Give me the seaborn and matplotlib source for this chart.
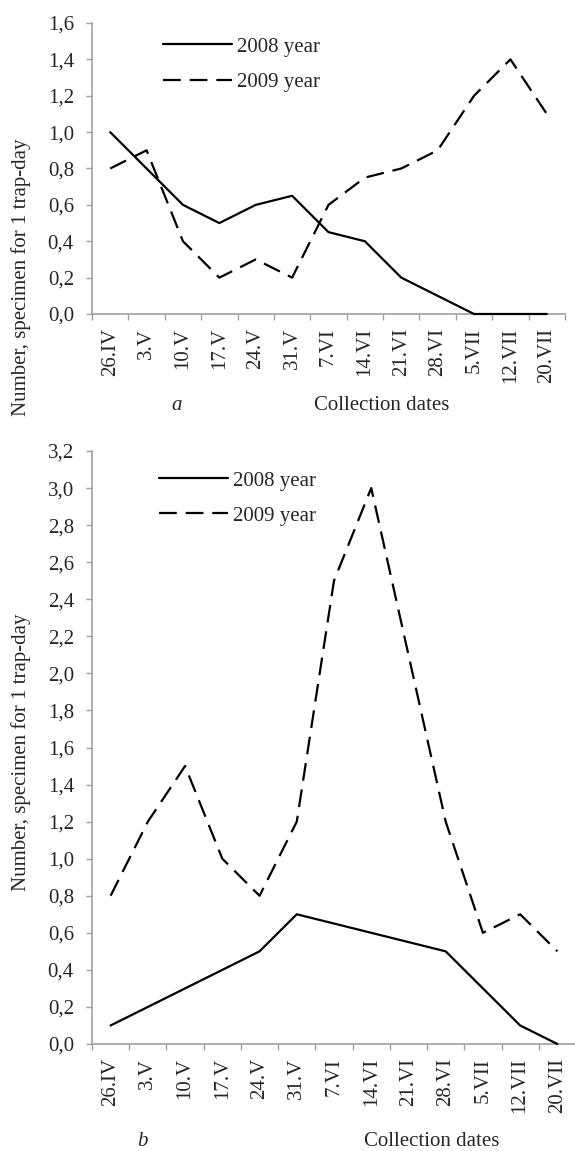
import numpy as np
import pandas as pd
import matplotlib
matplotlib.use('Agg')
import matplotlib.pyplot as plt
from matplotlib.ticker import FuncFormatter
import seaborn as sns

# dados
dates = ['26.IV', '3.V', '10.V', '17.V', '24.V', '31.V', '7.VI', '14.VI',
         '21.VI', '28.VI', '5.VII', '12.VII', '20.VII']
years = ['2008 year', '2009 year']

a_2008 = [1.0, 0.8, 0.6, 0.5, 0.6, 0.65, 0.45, 0.4, 0.2, 0.1, 0.0, 0.0, 0.0]
a_2009 = [0.8, 0.9, 0.4, 0.2, 0.3, 0.2, 0.6, 0.75, 0.8, 0.9, 1.2, 1.4, 1.1]

b_2008 = [0.1, 0.2, 0.3, 0.4, 0.5, 0.7, 0.65, 0.6, 0.55, 0.5, 0.3, 0.1, 0.0]
b_2009 = [0.8, 1.2, 1.5, 1.0, 0.8, 1.2, 2.5, 3.0, 2.1, 1.2, 0.6, 0.7, 0.5]

y_a_ticks = np.arange(0, 1.61, 0.2)
y_b_ticks = np.arange(0, 3.21, 0.2)

ylabel = 'Number, specimen for 1 trap-day'
xlabel = 'Collection dates'

sns.set_style('white')
plt.rcParams['font.family'] = ['Liberation Serif', 'DejaVu Serif']
plt.rcParams['font.size'] = 15

W, H = 575, 1151
fig = plt.figure(figsize=(W / 100, H / 100), dpi=100)


def px(x, y):
    # pixel (a partir do topo) -> fração da figura
    return x / W, 1 - y / H


def long_df(v08, v09):
    return pd.DataFrame({
        'date': dates * 2,
        'value': list(v08) + list(v09),
        'year': [years[0]] * len(dates) + [years[1]] * len(dates),
    })


def draw(ax, df, yticks, leg_xy):
    sns.lineplot(data=df, x='date', y='value', style='year',
                 dashes={years[0]: '', years[1]: (8, 4)},
                 color='black', linewidth=1.6, sort=False,
                 legend=False, ax=ax)
    for ln in ax.lines:
        ln.set_clip_on(False)
        ln.set_zorder(3)
    ax.set_xlim(-0.5, len(dates) - 0.5)
    ax.set_ylim(yticks[0], yticks[-1])
    ax.set_yticks(yticks)
    ax.yaxis.set_major_formatter(FuncFormatter(lambda v, p: f'{v:.1f}'.replace('.', ',')))
    ax.set_xticks(range(len(dates)))
    ax.set_xticklabels(dates, rotation=90)
    ax.set_xticks(np.arange(-0.5, len(dates), 1), minor=True)
    ax.tick_params(axis='x', which='major', length=0, pad=10, labelsize=15)
    ax.tick_params(axis='x', which='minor', length=4.5, width=1, color='#a0a0a0',
                   direction='out', bottom=True)
    ax.tick_params(axis='y', length=4, width=1, color='#a0a0a0', pad=9, labelsize=15,
                   left=True)
    ax.set_xlabel('')
    ax.set_ylabel('')
    for s in ['top', 'right']:
        ax.spines[s].set_visible(False)
    for s in ['left', 'bottom']:
        ax.spines[s].set_color('#a0a0a0')
        ax.spines[s].set_linewidth(1.2)
    ax.legend(ax.lines[:2], years, loc='upper left', frameon=False,
              bbox_to_anchor=px(*leg_xy), bbox_transform=fig.transFigure,
              borderaxespad=0, borderpad=0, handlelength=3.3,
              handletextpad=0.25, labelspacing=0.75, fontsize=15)


# painel a
ax_a = fig.add_axes([92 / W, 1 - 314 / H, 473 / W, 291 / H])
draw(ax_a, long_df(a_2008, a_2009), y_a_ticks, (163, 37))
fig.text(*px(21, 277), ylabel, rotation=90, ha='center', va='center', fontsize=15)
fig.text(*px(177, 406), 'a', style='italic', ha='center', va='center', fontsize=15)
fig.text(*px(382, 405), xlabel, ha='center', va='center', fontsize=15)

# painel b
ax_b = fig.add_axes([92 / W, 1 - 1044 / H, 484 / W, 593 / H])
draw(ax_b, long_df(b_2008, b_2009), y_b_ticks, (159, 471))
fig.text(*px(21, 752), ylabel, rotation=90, ha='center', va='center', fontsize=15)
fig.text(*px(142, 1141), 'b', style='italic', ha='center', va='center', fontsize=15)
fig.text(*px(432, 1141), xlabel, ha='center', va='center', fontsize=15)

fig.savefig('out.png', dpi=100)
